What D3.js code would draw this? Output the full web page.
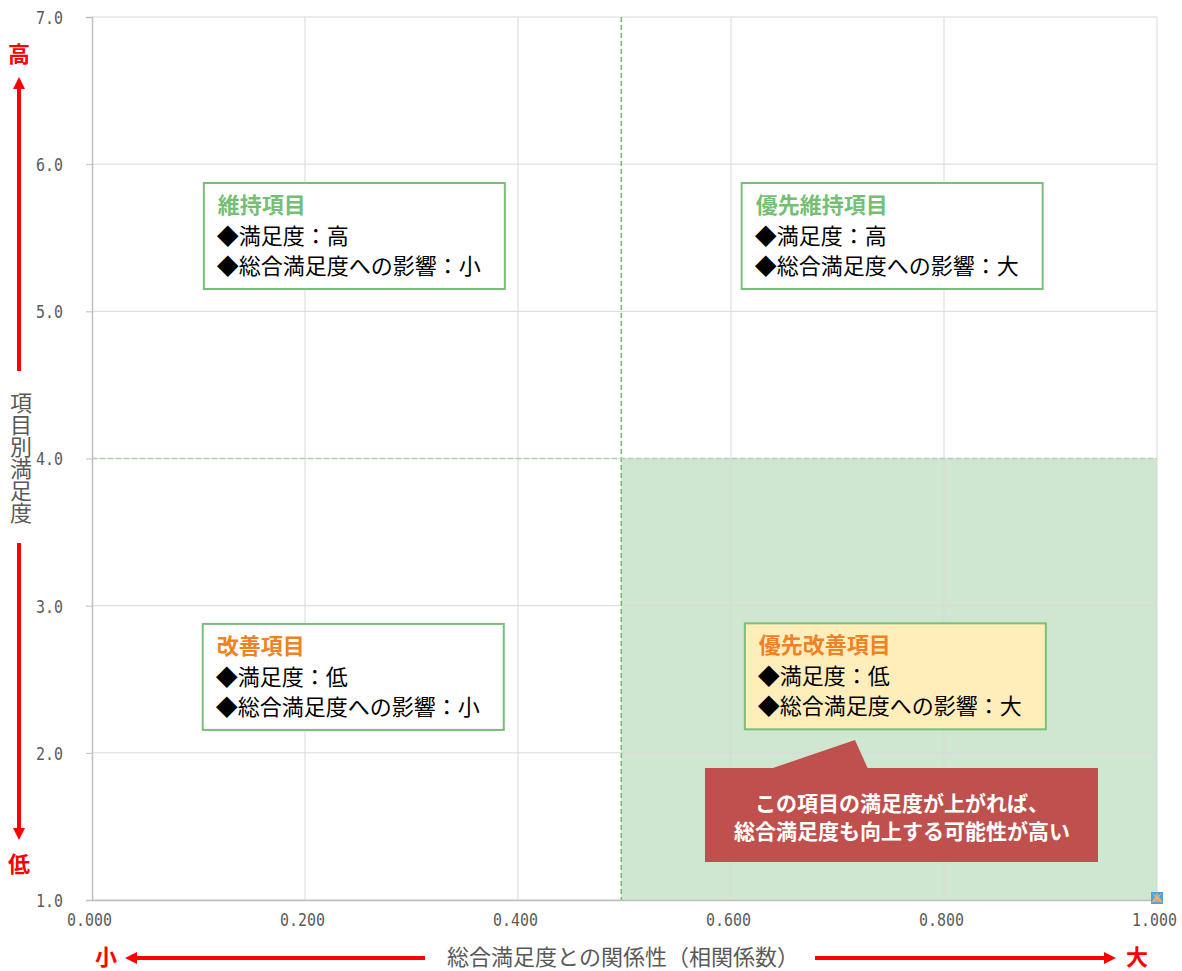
<!DOCTYPE html>
<html><head><meta charset="utf-8">
<script src="https://cdn.jsdelivr.net/npm/d3@7"></script>
<style>body{margin:0;background:#fff}svg{display:block}</style>
</head><body>
<svg id="c" width="1182" height="971"></svg>
<script>
// ---- data ----
const xTicks = [0, 0.2, 0.4, 0.6, 0.8, 1.0];
const yTicks = [1, 2, 3, 4, 5, 6, 7];
const xThreshold = 0.497;
const yThreshold = 4.0;
const points = [{x: 1.0, y: 1.0}];
const boxTitles = ["維持項目", "優先維持項目", "改善項目", "優先改善項目"];
const boxLine1 = ["◆満足度：高", "◆満足度：高", "◆満足度：低", "◆満足度：低"];
const boxLine2 = ["◆総合満足度への影響：小", "◆総合満足度への影響：大", "◆総合満足度への影響：小", "◆総合満足度への影響：大"];
const boxX = [0.105, 0.610, 0.104, 0.613];   // left edge in data units
const boxY = [5.872, 5.872, 2.876, 2.880];   // top edge in data units
const calloutLines = ["この項目の満足度が上がれば、", "総合満足度も向上する可能性が高い"];
const xTitle = "総合満足度との関係性（相関係数）";
const yTitle = "項目別満足度";

// ---- layout ----
const svg = d3.select("#c");
const x = d3.scaleLinear().domain([0, 1]).range([92, 1157]);
const y = d3.scaleLinear().domain([1, 7]).range([900, 17]);
const jp = "'Noto Sans CJK JP','Noto Sans',sans-serif";
const mono = "'DejaVu Sans Mono','Liberation Mono',monospace";

// quadrant fill
svg.append("rect").attr("x", x(xThreshold)).attr("y", y(yThreshold))
  .attr("width", x(1) - x(xThreshold)).attr("height", y(1) - y(yThreshold))
  .attr("fill", "#cfe6d0");

// gridlines
svg.append("g").selectAll("line").data(yTicks).join("line")
  .attr("x1", x(0)).attr("x2", x(1)).attr("y1", d => y(d)).attr("y2", d => y(d))
  .attr("stroke", "#d9d9d9").attr("stroke-width", 1);
svg.append("g").selectAll("line").data(xTicks.slice(1)).join("line")
  .attr("x1", d => x(d)).attr("x2", d => x(d)).attr("y1", y(7)).attr("y2", y(1))
  .attr("stroke", "#d9d9d9").attr("stroke-width", 1);

// axes
const yAxis = d3.axisLeft(y).tickValues(yTicks).tickFormat(d3.format(".1f")).tickSize(6).tickPadding(23);
const gy = svg.append("g").attr("transform", `translate(${x(0)},0)`).call(yAxis);
gy.select(".domain").attr("stroke", "#bfbfbf").attr("stroke-width", 1.5);
gy.selectAll(".tick line").attr("stroke", "#bfbfbf");
gy.selectAll(".tick text").attr("font-family", mono).attr("font-size", 18).attr("fill", "#5a5a5a")
  .attr("dy", "0.36em").attr("textLength", 27).attr("lengthAdjust", "spacingAndGlyphs");

const xAxis = d3.axisBottom(x).tickValues(xTicks).tickFormat(d3.format(".3f")).tickSize(0).tickPadding(14);
const gx = svg.append("g").attr("transform", `translate(0,${y(1)})`).call(xAxis);
gx.select(".domain").attr("stroke", "#bfbfbf").attr("stroke-width", 1.5);
gx.selectAll(".tick text").attr("font-family", mono).attr("font-size", 17).attr("fill", "#5a5a5a")
  .attr("dx", -3).attr("textLength", 45).attr("lengthAdjust", "spacingAndGlyphs");

// threshold dashed lines
svg.append("line").attr("x1", x(xThreshold)).attr("x2", x(xThreshold)).attr("y1", y(7)).attr("y2", y(1))
  .attr("stroke", "#6cbd6c").attr("stroke-width", 1.5).attr("stroke-dasharray", "5,3");
svg.append("line").attr("x1", x(0)).attr("x2", x(1)).attr("y1", y(yThreshold)).attr("y2", y(yThreshold))
  .attr("stroke", "#a8d4a8").attr("stroke-width", 1.5).attr("stroke-dasharray", "5,3");

// quadrant boxes
const titleColors = ["#74bf74", "#74bf74", "#f08124", "#f08124"];
const fills = ["#ffffff", "#ffffff", "#ffffff", "#ffeeba"];
boxTitles.forEach((t, i) => {
  const bx = x(boxX[i]), by = y(boxY[i]);
  const g = svg.append("g");
  g.append("rect").attr("x", bx).attr("y", by).attr("width", 301).attr("height", 106)
    .attr("fill", fills[i]).attr("stroke", "#78c078").attr("stroke-width", 2);
  g.append("text").attr("x", bx + 14).attr("y", by + 30).text(t)
    .attr("font-family", jp).attr("font-size", 22).attr("font-weight", "bold").attr("fill", titleColors[i]);
  g.append("text").attr("x", bx + 13).attr("y", by + 61).text(boxLine1[i])
    .attr("font-family", jp).attr("font-size", 22).attr("fill", "#000");
  g.append("text").attr("x", bx + 13).attr("y", by + 91).text(boxLine2[i])
    .attr("font-family", jp).attr("font-size", 22).attr("fill", "#000");
});

// callout
const cg = svg.append("g");
cg.append("path").attr("d", `M770,769 L855,740 L868,769 Z`).attr("fill", "#c0504d");
cg.append("rect").attr("x", 705).attr("y", 768).attr("width", 393).attr("height", 94).attr("fill", "#c0504d");
const ct = cg.append("text").attr("text-anchor", "middle")
  .attr("font-family", jp).attr("font-size", 21).attr("font-weight", "bold").attr("fill", "#fff");
calloutLines.forEach((l, i) => {
  ct.append("tspan").attr("x", 902).attr("y", 811 + i * 28).text(l);
});

// points
const pg = svg.append("g");
points.forEach(p => {
  pg.append("rect").attr("x", x(p.x) - 6).attr("y", y(p.y) - 8).attr("width", 12).attr("height", 12).attr("fill", "#4aa2d6");
  pg.append("path").attr("d", d3.symbol(d3.symbolTriangle, 55)()).attr("transform", `translate(${x(p.x)},${y(p.y) - 1})`).attr("fill", "#f5a04a");
  pg.append("path").attr("d", d3.symbol(d3.symbolX, 50)()).attr("transform", `translate(${x(p.x)},${y(p.y) - 2})`)
    .attr("fill", "none").attr("stroke", "#a9c9e0").attr("stroke-width", 1);
});

// axis titles
const red = "#ff0000";
svg.append("defs").append("marker").attr("id", "ah").attr("viewBox", "0 0 10 10").attr("refX", 0).attr("refY", 5)
  .attr("markerWidth", 3).attr("markerHeight", 3).attr("orient", "auto")
  .append("path").attr("d", "M0,0 L10,5 L0,10 Z").attr("fill", red);

function arrow(x1, y1, x2, y2) {
  svg.append("line").attr("x1", x1).attr("y1", y1).attr("x2", x2).attr("y2", y2)
    .attr("stroke", red).attr("stroke-width", 4).attr("marker-end", "url(#ah)");
}
arrow(19, 371, 19, 89);
arrow(19, 543, 19, 828);
arrow(425, 958, 137, 958);
arrow(815, 958, 1104, 958);

const redLabels = [["高", 19, 62], ["低", 19, 872], ["小", 106, 965], ["大", 1137, 965]];
redLabels.forEach(([t, lx, ly]) => {
  svg.append("text").attr("x", lx).attr("y", ly).attr("text-anchor", "middle").text(t)
    .attr("font-family", jp).attr("font-size", 22).attr("font-weight", "bold").attr("fill", red);
});

svg.append("text").attr("x", 623).attr("y", 965).attr("text-anchor", "middle").text(xTitle)
  .attr("font-family", jp).attr("font-size", 22).attr("fill", "#595959");
svg.append("text").attr("x", 21).attr("y", 392).attr("writing-mode", "vertical-rl").attr("text-anchor", "start")
  .attr("font-family", jp).attr("font-size", 22).attr("fill", "#595959").text(yTitle);
</script>
</body></html>
